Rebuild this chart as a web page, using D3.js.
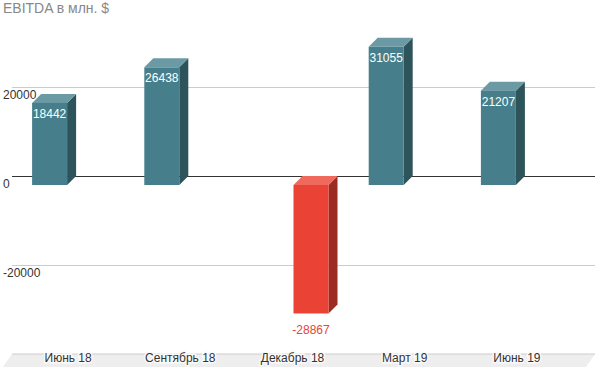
<!DOCTYPE html>
<html>
<head>
<meta charset="utf-8">
<script src="https://cdn.jsdelivr.net/npm/d3@7"></script>
<style>
  body { margin: 0; background: #fff; }
  text { font-family: "Liberation Sans", Arial, sans-serif; }
</style>
</head>
<body>
<div id="chart"></div>
<script>
// data
const categories = ["Июнь 18", "Сентябрь 18", "Декабрь 18", "Март 19", "Июнь 19"];
const profit = [18442, 26438, null, 31055, 21207];
const loss = [null, null, -28867, null, null];
const yTicks = [-20000, 0, 20000];
const title = "EBITDA в млн. $";

const width = 595, height = 367;
const depth = 9;          // 3d offset
const left = 3;           // front plane left

const svg = d3.select("#chart").append("svg")
    .attr("width", width).attr("height", height);

// front plane scales
const x = d3.scaleBand()
    .domain(categories)
    .range([12, 573]);
const xs = d3.scaleBand()
    .domain(["profit", "loss"])
    .range([-37, 37])
    .paddingInner(2 / 37)
    .paddingOuter(1 / 37);
const y = d3.scaleLinear()
    .domain([-40000, 40000])
    .range([363, 7]);

// title
svg.append("text")
    .attr("x", 3).attr("y", 13)
    .attr("font-size", "14px")
    .attr("fill", "#888")
    .text(title);

// floor
const floorY = y(-40000);
svg.append("path")
    .attr("d", `M${left + depth},${floorY - depth} L${width},${floorY - depth} L${width - depth},${floorY + 4} L${left},${floorY + 4} Z`)
    .attr("fill", "#eeeeee");
svg.append("line")
    .attr("x1", left + depth).attr("x2", width)
    .attr("y1", floorY - depth).attr("y2", floorY - depth)
    .attr("stroke", "#cccccc");

// grid on back plane
svg.selectAll(".grid")
    .data(yTicks)
    .enter()
    .append("line")
    .attr("x1", left + depth).attr("x2", width)
    .attr("y1", d => Math.round(y(d) - depth) + 0.5)
    .attr("y2", d => Math.round(y(d) - depth) + 0.5)
    .attr("stroke", d => d === 0 ? "#333" : "#cccccc");

// y labels
svg.selectAll(".ylab")
    .data(yTicks)
    .enter()
    .append("text")
    .attr("x", 3)
    .attr("y", d => y(d) + 3)
    .attr("font-size", "12px")
    .attr("fill", "#333")
    .text(d => d);

// bars
const colors = {
    profit: { front: "#467f8b", top: "#6b9aa4", side: "#2d535b" },
    loss: { front: "#ea4335", top: "#f0695d", side: "#9b2b23" }
};

const rows = [];
categories.forEach((c, i) => {
    if (profit[i] != null) rows.push({ cat: c, key: "profit", v: profit[i] });
    if (loss[i] != null) rows.push({ cat: c, key: "loss", v: loss[i] });
});

const bars = svg.selectAll(".bar")
    .data(rows)
    .enter()
    .append("g");

bars.each(function (d) {
    const g = d3.select(this);
    const c = colors[d.key];
    const barW = xs.bandwidth();
    const x0 = x(d.cat) + x.bandwidth() / 2 + xs(d.key), x1 = x0 + barW;
    const yTop = Math.min(y(d.v), y(0));
    const yBot = Math.max(y(d.v), y(0));
    // side
    g.append("path")
        .attr("d", `M${x1},${yTop} L${x1 + depth},${yTop - depth} L${x1 + depth},${yBot - depth} L${x1},${yBot} Z`)
        .attr("fill", c.side);
    // top
    g.append("path")
        .attr("d", `M${x0},${yTop} L${x0 + depth},${yTop - depth} L${x1 + depth},${yTop - depth} L${x1},${yTop} Z`)
        .attr("fill", c.top);
    // front
    g.append("rect")
        .attr("x", x0).attr("y", yTop)
        .attr("width", barW).attr("height", yBot - yTop)
        .attr("fill", c.front);
    // value
    g.append("text")
        .attr("x", x0 + barW / 2)
        .attr("y", d.v < 0 ? yBot + 21 : yTop + 15)
        .attr("text-anchor", "middle")
        .attr("font-size", "12px")
        .attr("fill", d.v < 0 ? "#ea4335" : "#fff")
        .text(d.v);
});

// category labels
svg.selectAll(".xlab")
    .data(categories)
    .enter()
    .append("text")
    .attr("x", d => x(d) + x.bandwidth() / 2)
    .attr("y", floorY - 1)
    .attr("text-anchor", "middle")
    .attr("font-size", "12px")
    .attr("fill", "#333")
    .attr("stroke", "#fafafa")
    .attr("stroke-width", 3)
    .attr("paint-order", "stroke")
    .text(d => d);
</script>
</body>
</html>
